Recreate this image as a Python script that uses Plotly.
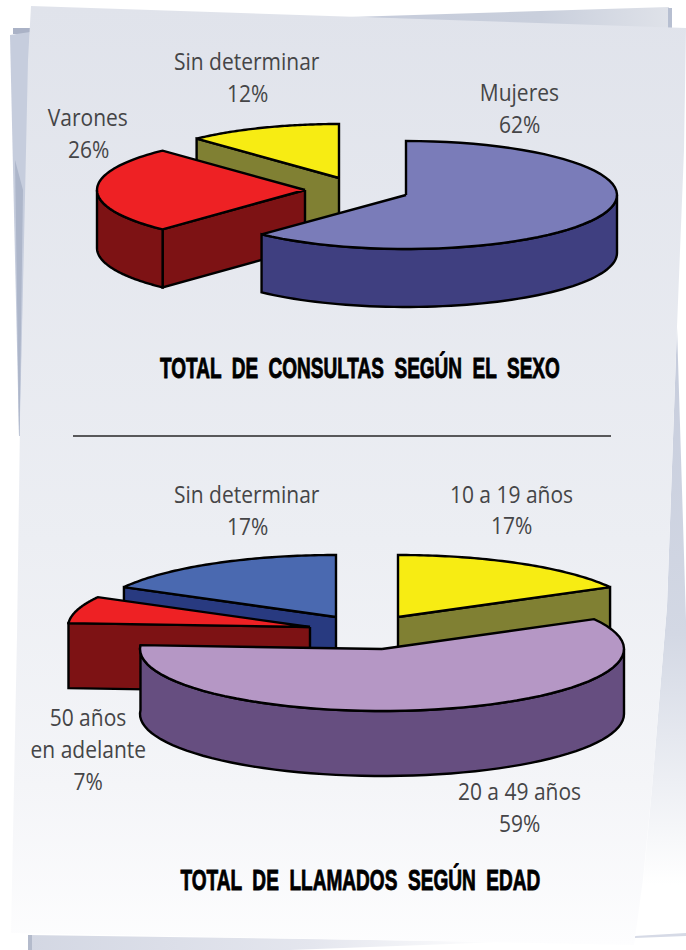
import math
import plotly.graph_objects as go

# ---------- data ----------
consultas_labels = ["Mujeres", "Varones", "Sin determinar"]
consultas_values = [62, 26, 12]
consultas_start = [0, 62, 88]

llamados_labels = ["10 a 19 años", "20 a 49 años", "50 años en adelante", "Sin determinar"]
llamados_values = [17, 59, 7, 17]
llamados_start = [0, 17, 76, 83]

title_consultas = "TOTAL  DE  CONSULTAS  SEGÚN  EL  SEXO"
title_llamados = "TOTAL  DE  LLAMADOS  SEGÚN  EDAD"

# ---------- style / placement ----------
INK = "#000000"
TEXT = "#454547"
LABEL_FONT = "Open Sans"
TITLE_FONT = "Liberation Sans"


def polar(c, rx, ry, pct):
    a = 2 * math.pi * pct / 100
    return c[0] + rx * math.sin(a), c[1] - ry * math.cos(a)


def arc(c, rx, ry, p0, p1, n=60):
    pts = [polar(c, rx, ry, p0 + (p1 - p0) * i / n) for i in range(n + 1)]
    return [p[0] for p in pts], [p[1] for p in pts]


def poly(fig, xs, ys, color, lw=2.4):
    fig.add_trace(go.Scatter(x=list(xs) + [xs[0]], y=list(ys) + [ys[0]], mode="lines", fill="toself",
                             fillcolor=color, line=dict(color=INK, width=lw, simplify=False),
                             hoverinfo="skip", showlegend=False))


def wall_outer(fig, c, rx, ry, depth, p0, p1, side):
    xs, ys = arc(c, rx, ry, p0, p1)
    poly(fig, xs + xs[::-1], ys + [y + depth for y in ys[::-1]], side)


def wall_cut(fig, c, rx, ry, depth, p, side):
    x, y = polar(c, rx, ry, p)
    poly(fig, [c[0], x, x, c[0]], [c[1], y, y + depth, c[1] + depth], side)


def top(fig, c, rx, ry, p0, p1, color):
    xs, ys = arc(c, rx, ry, p0, p1)
    poly(fig, [c[0]] + xs, [c[1]] + ys, color)


def sheet(fig, xs, ys, color=None, gradient=None):
    kw = dict(fillcolor=color) if color else dict(fillgradient=gradient)
    fig.add_trace(go.Scatter(x=xs + [xs[0]], y=ys + [ys[0]], mode="lines", fill="toself",
                             line=dict(width=0), hoverinfo="skip", showlegend=False, **kw))


fig = go.Figure()

# ---------- paper ----------
sheet(fig, [350, 669, 669, 350], [17, 7, 30, 17],
      gradient=dict(type="horizontal", colorscale=[[0, "#c6ccdb"], [0.6, "#c9cfdc"], [1, "#dfe2e9"]]))
sheet(fig, [668, 672, 672, 668], [8, 8, 30, 30], "#b7bfd1")
sheet(fig, [13, 31, 31, 13], [28, 28, 34, 34], "#aab2c6")
sheet(fig, [10, 30, 20, 19], [35, 32, 436, 436], "#c6cddd")
sheet(fig, [15, 23, 19.5, 19], [160, 190, 436, 436], "#adb6ca")
sheet(fig, [677, 686, 686, 643, 652, 667], [327, 620, 885, 885, 788, 606],
      gradient=dict(type="vertical", colorscale=[[0, "#ffffff"], [0.45, "#d3d8e4"], [1, "#c6ccdc"]]))
sheet(fig, [28, 503, 290, 28], [935, 942, 950, 950],
      gradient=dict(type="horizontal", colorscale=[[0, "#d3d7e3"], [0.6, "#e4e6ee"], [1, "#ffffff"]]))
sheet(fig, [28, 32, 32, 28], [935, 935, 950, 950], "#b4bbcc")
sheet(fig, [635, 686, 686, 635], [936, 933, 936, 938], "#d6dae6")
sheet(fig, [31, 350, 686, 684, 677, 667, 652, 643, 634, 11, 17, 20, 28],
      [6, 17, 28, 150, 327, 606, 788, 879, 945, 933, 636, 424, 60],
      gradient=dict(type="vertical", colorscale=[[0, "#fdfdfe"], [0.17, "#f4f5f8"], [0.43, "#eceef3"],
                                                 [1, "#e0e3eb"]]))

# ---------- top pie: total de consultas ----------
RX1, RY1, D1 = 208, 54, 58
c_muj, c_var, c_sin = (406, 195), (305, 190), (339, 178)
e = [consultas_start[i] + consultas_values[i] for i in range(3)]
wall_cut(fig, c_sin, RX1, RY1, D1, consultas_start[2], "#808033")
top(fig, c_sin, RX1, RY1, consultas_start[2], e[2], "#f7ec13")
wall_cut(fig, c_var, RX1, RY1, D1, consultas_start[1], "#7d1214")
wall_outer(fig, c_var, RX1, RY1, D1, consultas_start[1], 75, "#7d1214")
top(fig, c_var, RX1, RY1, consultas_start[1], e[1], "#ee2124")
wall_outer(fig, c_muj, 211, RY1, D1, 25, e[0], "#3f3f80")
top(fig, c_muj, 211, RY1, consultas_start[0], e[0], "#7a7cb9")

# ---------- bottom pie: total de llamados ----------
RX2, RY2, D2 = 242, 62, 65
c_y, c_p, c_r, c_b = (398, 617), (382, 649), (310, 627), (336, 617)
f = [llamados_start[i] + llamados_values[i] for i in range(4)]
wall_cut(fig, c_y, RX2, RY2, D2, f[0], "#808033")
top(fig, c_y, RX2, RY2, llamados_start[0], f[0], "#f7ec13")
wall_cut(fig, c_b, RX2, RY2, D2, llamados_start[3], "#283a80")
top(fig, c_b, RX2, RY2, llamados_start[3], f[3], "#4a69b0")
wall_cut(fig, c_r, RX2, RY2, D2, llamados_start[2], "#7d1214")
top(fig, c_r, RX2, RY2, llamados_start[2], f[2], "#ee2124")
wall_outer(fig, c_p, RX2, RY2, D2, 25, f[1], "#664e80")
top(fig, c_p, RX2, RY2, llamados_start[1], f[1], "#b597c5")

# ---------- divider ----------
fig.add_shape(type="line", x0=73, x1=611, y0=436, y1=436, line=dict(color="#58585a", width=2))


def label(x, y, text):
    fig.add_annotation(x=x, y=y, text=text, showarrow=False, xanchor="center", yanchor="middle",
                       font=dict(family=LABEL_FONT, size=23, color=TEXT))


label(247, 61, consultas_labels[2]); label(247, 93, f"{consultas_values[2]}%")
label(519, 92, consultas_labels[0]); label(519, 124, f"{consultas_values[0]}%")
label(88, 117, consultas_labels[1]); label(88, 149, f"{consultas_values[1]}%")
label(247, 494, llamados_labels[3]); label(247, 526, f"{llamados_values[3]}%")
label(511, 494, llamados_labels[0]); label(511, 525, f"{llamados_values[0]}%")
label(88, 717, "50 años"); label(88, 749, "en adelante"); label(88, 781, f"{llamados_values[2]}%")
label(519, 791, llamados_labels[1]); label(519, 823, f"{llamados_values[1]}%")

for y, t in [(367, title_consultas), (879, title_llamados)]:
    fig.add_annotation(x=360, y=y, text=t, showarrow=False, xanchor="center", yanchor="middle",
                       font=dict(family=TITLE_FONT, size=30, color="#000000", weight=700))

fig.update_xaxes(visible=False, range=[0, 686], fixedrange=True)
fig.update_yaxes(visible=False, range=[950, 0], fixedrange=True)
fig.update_layout(width=686, height=950, margin=dict(l=0, r=0, t=0, b=0), paper_bgcolor="#ffffff",
                  plot_bgcolor="#ffffff", showlegend=False)

# condensed lettering: squeeze the real SVG text horizontally (no condensed font is installed)
squeeze = """
document.body.style.margin='0';
document.querySelectorAll('.annotation-text').forEach(function(el){
  var t = el.textContent;
  var w = el.getComputedTextLength();
  var k = 0.913;
  if (t.indexOf('CONSULTAS') >= 0) { k = 400 / w; }
  if (t.indexOf('LLAMADOS') >= 0) { k = 360 / w; }
  el.style.transformBox = 'fill-box';
  el.style.transformOrigin = 'center';
  el.style.transform = 'scaleX(' + k + ')';
  if (t.indexOf('TOTAL') === 0) { el.style.stroke = '#000'; el.style.strokeWidth = '0.9px'; }
});
"""
fig.write_html("out.html", post_script=squeeze, config=dict(displayModeBar=False))
